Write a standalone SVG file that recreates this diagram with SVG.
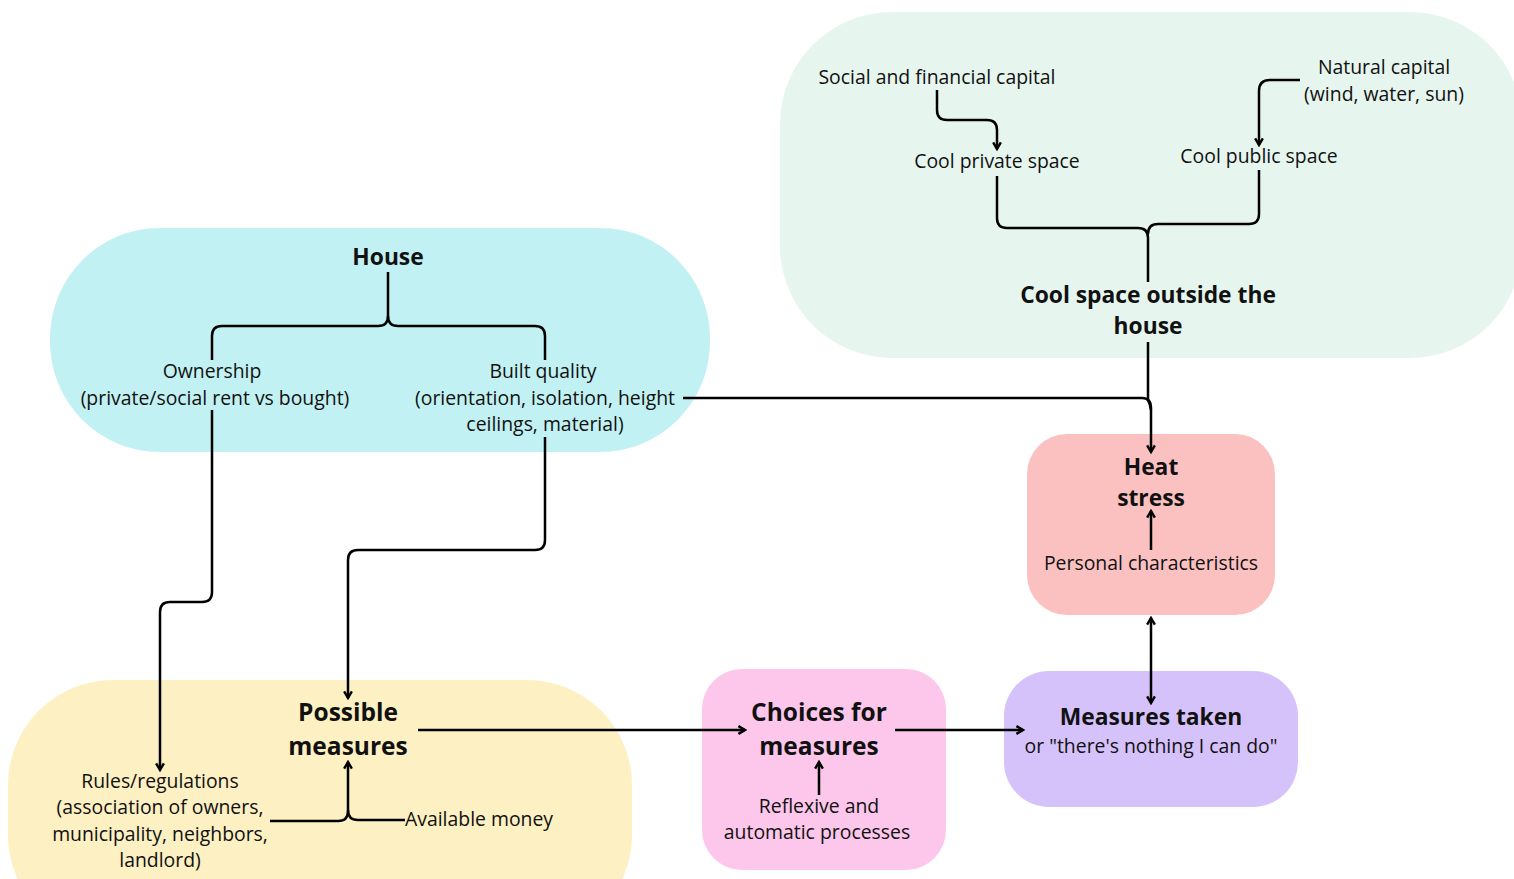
<svg xmlns="http://www.w3.org/2000/svg" width="1514" height="879" viewBox="0 0 1514 879">
<defs>
<marker id="ah" viewBox="0 0 10 10" refX="8.5" refY="5" markerWidth="11" markerHeight="11" orient="auto-start-reverse" markerUnits="userSpaceOnUse">
<path d="M2.5 1.5 L8.5 5 L2.5 8.5" fill="none" stroke="#000" stroke-width="2.2"/>
</marker>
<style>
text{font-family:"Open Sans","Noto Sans","Liberation Sans",sans-serif;fill:#111;text-anchor:middle}
.t{font-size:19.4px}
.b{font-size:22.8px;font-weight:bold}
.bb{font-size:24.5px;font-weight:bold}
.c{fill:none;stroke:#000;stroke-width:2.5}
.a{marker-end:url(#ah)}
</style>
</defs>
<rect width="1514" height="879" fill="#fff"/>
<g id="outside">
<rect x="780" y="12" width="742" height="346" rx="112" fill="#e6f6ee"/>
<text class="t" x="937" y="84">Social and financial capital</text>
<text class="t" x="1384" y="74">Natural capital</text>
<text class="t" x="1384" y="101">(wind, water, sun)</text>
<text class="t" x="997" y="168">Cool private space</text>
<text class="t" x="1259" y="163">Cool public space</text>
<text class="b" x="1148" y="303">Cool space outside the</text>
<text class="b" x="1148" y="334">house</text>
</g>
<g id="house">
<rect x="50" y="228" width="660" height="224" rx="110" fill="#c2f1f3"/>
<text class="b" x="388" y="265">House</text>
<text class="t" x="212" y="378">Ownership</text>
<text class="t" x="215" y="405">(private/social rent vs bought)</text>
<text class="t" x="543" y="378">Built quality</text>
<text class="t" x="545" y="405">(orientation, isolation, height</text>
<text class="t" x="545" y="431">ceilings, material)</text>
</g>
<g id="possible">
<rect x="8" y="680" width="624" height="260" rx="105" fill="#fdf0c2"/>
<text class="bb" x="348" y="721">Possible</text>
<text class="bb" x="348" y="755">measures</text>
<text class="t" x="160" y="788">Rules/regulations</text>
<text class="t" x="160" y="814">(association of owners,</text>
<text class="t" x="160" y="841">municipality, neighbors,</text>
<text class="t" x="160" y="867">landlord)</text>
<text class="t" x="405" y="826" style="text-anchor:start">Available money</text>
</g>
<g id="choices">
<rect x="702" y="669" width="244" height="201" rx="40" fill="#fcc7ea"/>
<text class="bb" x="819" y="721">Choices for</text>
<text class="bb" x="819" y="755">measures</text>
<text class="t" x="819" y="813">Reflexive and</text>
<text class="t" x="817" y="839">automatic processes</text>
</g>
<g id="taken">
<rect x="1004" y="671" width="294" height="136" rx="45" fill="#d6c2fb"/>
<text class="b" x="1151" y="725">Measures taken</text>
<text class="t" x="1151" y="753">or "there's nothing I can do"</text>
</g>
<g id="heat">
<rect x="1027" y="434" width="248" height="181" rx="40" fill="#fbc1c1"/>
<text class="b" x="1151" y="475">Heat</text>
<text class="b" x="1151" y="506">stress</text>
<text class="t" x="1151" y="570">Personal characteristics</text>
</g>
<g id="connectors">
<path class="c a" d="M937 90 V110 Q937 120 947 120 H987 Q997 120 997 130 V149"/>
<path class="c a" d="M1300 80 H1270 Q1259 80 1259 91 V145"/>
<path class="c" d="M997 176 V218 Q997 228 1007 228 H1138 Q1148 228 1148 238 V282"/>
<path class="c" d="M1259 170 V214 Q1259 224 1249 224 H1158 Q1148 224 1148 234"/>
<path class="c" d="M1148 342 V400 Q1150 404 1151 410"/>
<path class="c a" d="M683 398 H1142 Q1151 398 1151 408 V452"/>
<path class="c" d="M388 272 V316 Q388 326 378 326 H222 Q212 326 212 336 V360"/>
<path class="c" d="M388 316 Q388 326 398 326 H535 Q545 326 545 336 V360"/>
<path class="c a" d="M212 410 V592 Q212 602 202 602 H170 Q160 602 160 612 V770"/>
<path class="c a" d="M545 437 V540 Q545 550 535 550 H358 Q348 550 348 560 V698"/>
<path class="c a" d="M270 821 H338 Q348 821 348 811 V762"/>
<path class="c" d="M405 820 H358 Q348 820 348 810"/>
<path class="c a" d="M418 730 H745"/>
<path class="c a" d="M895 730 H1023"/>
<path class="c a" d="M819 795 V762"/>
<path class="c a" d="M1151 550 V511"/>
<path class="c a" d="M1151 618 V703" style="marker-start:url(#ah)"/>
</g>
</svg>
